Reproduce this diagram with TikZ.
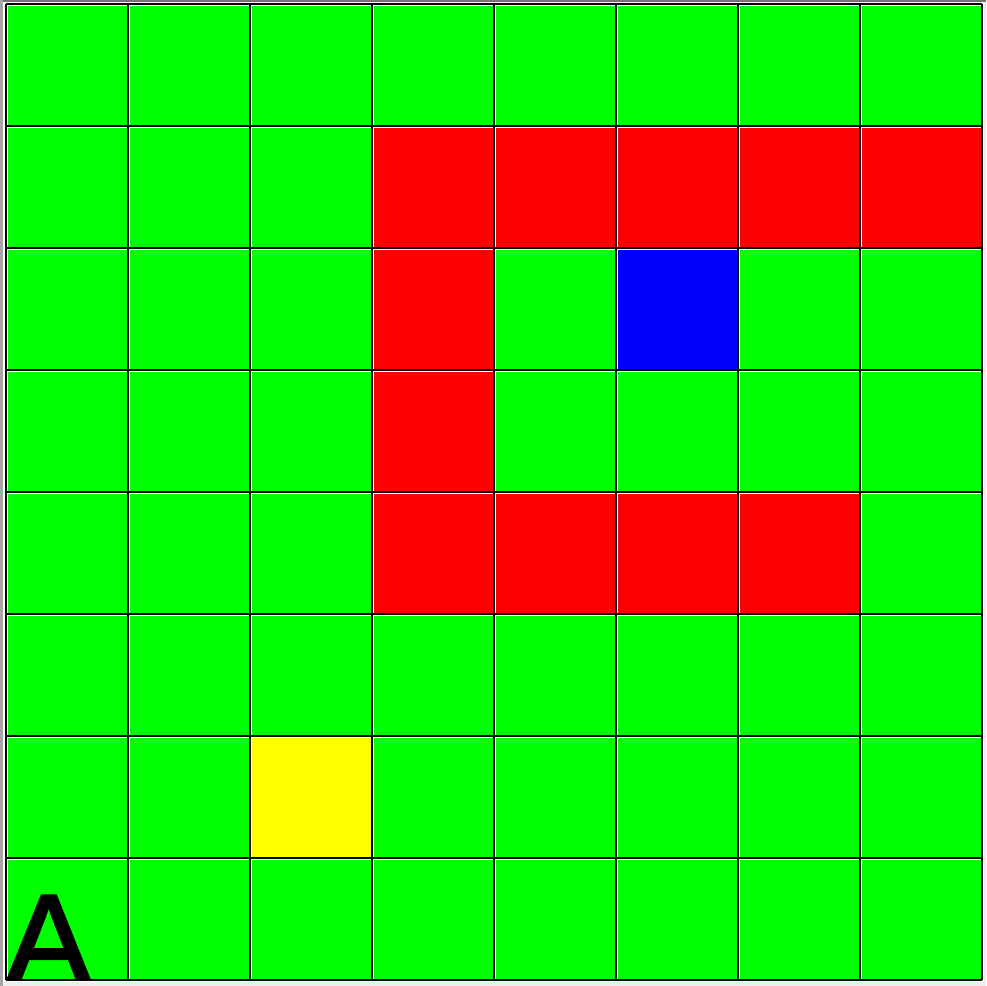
\documentclass[tikz,border=0pt]{standalone}
\usepackage{fontspec}
\setmainfont{Liberation Sans}
\font\bigAfont="Liberation Sans:embolden=2" at 130pt
\definecolor{cg}{HTML}{00FF00}
\definecolor{cr}{HTML}{FF0000}
\definecolor{cb}{HTML}{0000FF}
\definecolor{cy}{HTML}{FFFF00}
\definecolor{bgg}{HTML}{EEEEEE}
\begin{document}
\begin{tikzpicture}[x=1pt,y=-1pt,
  cellline/.style={line width=1.6pt},
  hiline/.style={white,line width=1pt}]
\useasboundingbox (0,0) rectangle (986,986);
\fill[bgg] (0,0) rectangle (986,986);
\fill[white] (3,2) rectangle (984,982);
\fill[black!55] (0,0) rectangle (986,2);
\fill[black!35] (0,0) rectangle (3,986);
\foreach \r/\rowcols in {0/{cg,cg,cg,cg,cg,cg,cg,cg},
                         1/{cg,cg,cg,cr,cr,cr,cr,cr},
                         2/{cg,cg,cg,cr,cg,cb,cg,cg},
                         3/{cg,cg,cg,cr,cg,cg,cg,cg},
                         4/{cg,cg,cg,cr,cr,cr,cr,cg},
                         5/{cg,cg,cg,cg,cg,cg,cg,cg},
                         6/{cg,cg,cy,cg,cg,cg,cg,cg},
                         7/{cg,cg,cg,cg,cg,cg,cg,cg}}{
  \foreach \col [count=\c from 0] in \rowcols {
    \fill[\col] ({6+122*\c},{4+122*\r}) rectangle ({6+122*(\c+1)},{4+122*(\r+1)});
    \draw[hiline] ({7.5+122*\c},{4+122*(\r+1)-1}) -- ({7.5+122*\c},{5.5+122*\r}) -- ({6+122*(\c+1)-1},{5.5+122*\r});
  }
}
\foreach \i in {0,...,8}{
  \draw[cellline] ({6+122*\i},4) -- ({6+122*\i},980);
  \draw[cellline] (6,{4+122*\i}) -- (982,{4+122*\i});
}
\begin{scope}
\clip (7,860) rectangle (127,979);
\node[anchor=base west,inner sep=0pt,font=\bigAfont] (labelA) at (5,985) {A};
\end{scope}
\end{tikzpicture}
\end{document}
